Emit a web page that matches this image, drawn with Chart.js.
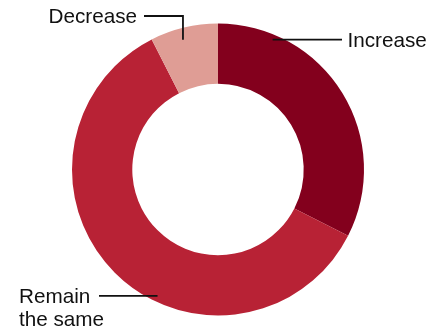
<!DOCTYPE html>
<html>
<head>
<meta charset="utf-8">
<script src="https://cdn.jsdelivr.net/npm/chart.js@4/dist/chart.umd.min.js"></script>
<style>
  html, body { margin: 0; padding: 0; background: #ffffff; }
  #wrap { width: 441px; height: 331px; }
</style>
</head>
<body>
<div id="wrap"><canvas id="c" width="441" height="331"></canvas></div>
<script>
// Expected change in share of responses
const categories = ['Increase', 'Remain the same', 'Decrease'];
const shares = [32.5, 60, 7.5];
const sliceColors = ['#83001d', '#b82235', '#df9d95'];

// Callout settings per slice: where on the slice the leader starts
// (fraction along the arc, fraction of outer radius) and how the label sits.
const callouts = [
  { lines: ['Increase'], along: 0.195, radial: 0.965, kind: 'right', lineTo: 342, textX: 347.5 },
  { lines: ['Remain', 'the same'], along: 0.41, radial: 0.96, kind: 'left', lineTo: 99, textX: 19 },
  { lines: ['Decrease'], along: 0.44, radial: 0.92, kind: 'elbowLeft', elbowY: 16, lineTo: 144, textX: 137 }
];

const calloutPlugin = {
  id: 'callouts',
  afterDatasetsDraw(chart) {
    const ctx = chart.ctx;
    const meta = chart.getDatasetMeta(0);
    ctx.save();
    ctx.strokeStyle = '#111111';
    ctx.lineWidth = 1.8;
    ctx.fillStyle = '#111111';
    ctx.font = '20.7px "Liberation Sans", Arial, sans-serif';
    ctx.textBaseline = 'alphabetic';
    meta.data.forEach((arc, i) => {
      const c = callouts[i];
      const p = arc.getProps(['x', 'y', 'startAngle', 'endAngle', 'outerRadius'], true);
      const a = p.startAngle + (p.endAngle - p.startAngle) * c.along;
      const r = p.outerRadius * c.radial;
      const ax = p.x + Math.cos(a) * r;
      const ay = p.y + Math.sin(a) * r;
      ctx.beginPath();
      ctx.moveTo(ax, ay);
      let ly = ay;
      if (c.kind === 'elbowLeft') {
        ly = c.elbowY;
        ctx.lineTo(ax, ly);
      }
      ctx.lineTo(c.lineTo, ly);
      ctx.stroke();
      ctx.textAlign = c.kind === 'elbowLeft' ? 'right' : 'left';
      c.lines.forEach((t, k) => {
        ctx.fillText(t, c.textX, ly + 7 + k * 23.5);
      });
    });
    ctx.restore();
  }
};

new Chart(document.getElementById('c'), {
  type: 'doughnut',
  data: {
    labels: categories,
    datasets: [{
      data: shares,
      backgroundColor: sliceColors,
      borderWidth: 0,
      hoverOffset: 0,
      radius: 146,
      cutout: 86
    }]
  },
  options: {
    responsive: false,
    animation: false,
    events: [],
    layout: { padding: { left: 0, right: 5, top: 23, bottom: 15 } },
    plugins: {
      legend: { display: false },
      tooltip: { enabled: false }
    }
  },
  plugins: [calloutPlugin]
});
</script>
</body>
</html>
